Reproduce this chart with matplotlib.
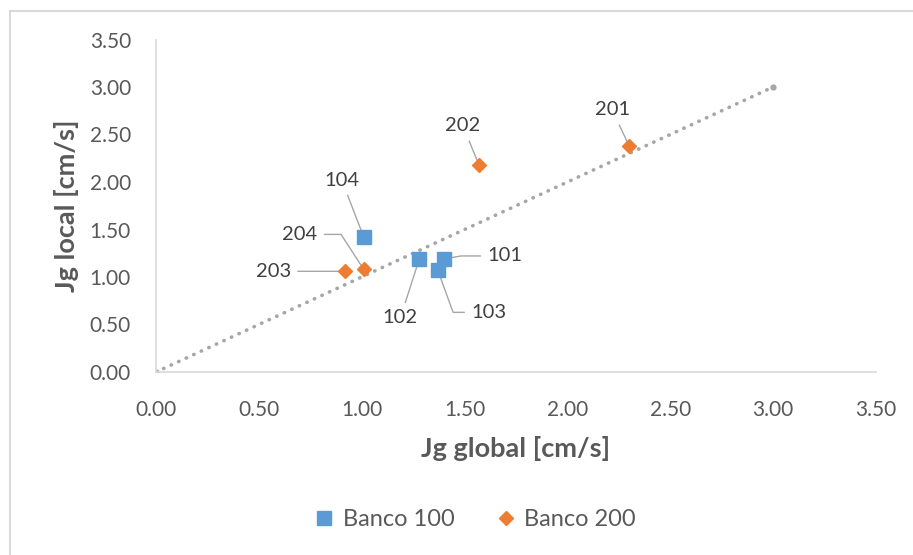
import matplotlib
matplotlib.use("Agg")
import matplotlib.pyplot as plt
from matplotlib.lines import Line2D

plt.rcParams['font.family'] = ['Lato', 'DejaVu Sans']

# Banco 100 measurements
b100_labels = ["101", "102", "103", "104"]
b100_x = [1.40, 1.28, 1.37, 1.01]
b100_y = [1.19, 1.19, 1.07, 1.42]

# Banco 200 measurements
b200_labels = ["201", "202", "203", "204"]
b200_x = [2.30, 1.57, 0.92, 1.01]
b200_y = [2.38, 2.18, 1.06, 1.08]

# 1:1 reference line
ref_x = [0.0, 3.0]
ref_y = [0.0, 3.0]

ticks = [0.0, 0.5, 1.0, 1.5, 2.0, 2.5, 3.0, 3.5]

BLUE = "#5b9bd5"
ORANGE = "#ed7d31"
TXT = "#595959"
LBL = "#404040"
LEAD = "#a6a6a6"

fig = plt.figure(figsize=(9.13, 5.55), dpi=100)
W, H = 913, 555
ax = fig.add_axes([156 / W, 1 - 372 / H, 720 / W, 332.5 / H])

ax.plot(ref_x, ref_y, linestyle=(0, (0.1, 2.2)), dash_capstyle="round",
        color=LEAD, linewidth=2.6, marker="o", markersize=4.5,
        markeredgewidth=0, zorder=2)

ax.plot(b100_x, b100_y, linestyle="none", marker="s", markersize=10,
        color=BLUE, markeredgecolor=BLUE, zorder=5, label="Banco 100")
ax.plot(b200_x, b200_y, linestyle="none", marker="D", markersize=7.5,
        color=ORANGE, markeredgecolor=ORANGE, zorder=5, label="Banco 200")

# label offsets (pixels) and leader connection styles
offsets = {
    "101": (61, 3, "angle,angleA=180,angleB=10,rad=0"),
    "102": (-19, -59, "arc3"),
    "103": (51, -42, "angle,angleA=180,angleB=-70,rad=0"),
    "104": (-22, 57, "arc3"),
    "201": (-17, 36, "arc3"),
    "202": (-16, 39, "arc3"),
    "203": (-72, 0, "arc3"),
    "204": (-64, 35, "angle,angleA=0,angleB=123,rad=0"),
}

for labs, xs, ys in ((b100_labels, b100_x, b100_y), (b200_labels, b200_x, b200_y)):
    for lab, x, y in zip(labs, xs, ys):
        dx, dy, cs = offsets[lab]
        ax.annotate(lab, xy=(x, y), xytext=(dx * 0.72, dy * 0.72),
                    textcoords="offset points", ha="center", va="center",
                    fontsize=14.5, color=LBL, zorder=3,
                    arrowprops=dict(arrowstyle="-", color=LEAD, lw=1.0,
                                    shrinkA=3, shrinkB=0, connectionstyle=cs))

ax.set_xlim(0, 3.5)
ax.set_ylim(0, 3.5)
ax.set_xticks(ticks)
ax.set_yticks(ticks)
ax.set_xticklabels([f"{t:.2f}" for t in ticks])
ax.set_yticklabels([f"{t:.2f}" for t in ticks])
ax.tick_params(length=0, labelsize=15, colors=TXT)
ax.tick_params(axis="x", pad=20)
ax.tick_params(axis="y", pad=18)

for s in ("top", "right"):
    ax.spines[s].set_visible(False)
for s in ("left", "bottom"):
    ax.spines[s].set_color("#d9d9d9")
    ax.spines[s].set_linewidth(1.2)

ax.set_xlabel("Jg global [cm/s]", fontsize=19.5, fontweight="bold", color=TXT, labelpad=12)
ax.set_ylabel("Jg local [cm/s]", fontsize=19.5, fontweight="bold", color=TXT, labelpad=8)

fig.legend(loc="center", bbox_to_anchor=(476 / W, 1 - 520 / H), ncol=2,
           frameon=False, fontsize=17, labelcolor=TXT, handlelength=0.7,
           handletextpad=0.45, columnspacing=1.8)

# chart area border
fig.add_artist(Line2D([10 / W, 1.0], [1 - 11 / H, 1 - 11 / H],
                      transform=fig.transFigure, color="#d9d9d9", lw=1.5))
fig.add_artist(Line2D([10 / W, 10 / W], [0.0, 1 - 11 / H],
                      transform=fig.transFigure, color="#d9d9d9", lw=1.5))

fig.savefig("out.png", dpi=100, facecolor="white")
